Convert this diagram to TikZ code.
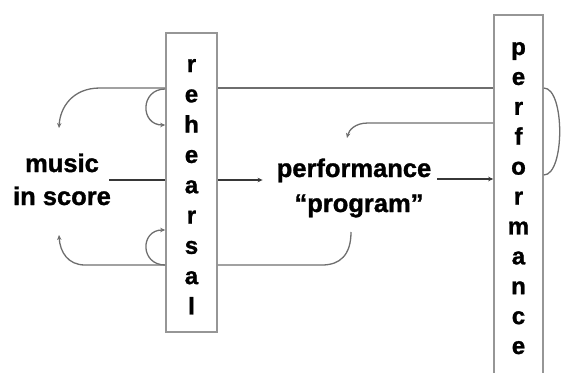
\documentclass[tikz,border=0pt]{standalone}
\usepackage{fontspec}
\setmainfont{Liberation Sans}[BoldFeatures={FakeBold=1.2}]
\usetikzlibrary{arrows.meta,calc}
\definecolor{boxgray}{RGB}{150,150,150}
\definecolor{conngray}{RGB}{110,110,110}
\definecolor{maingray}{RGB}{55,55,55}
\begin{document}
\begin{tikzpicture}[x=1pt,y=-1pt,
  vbox/.style={draw=boxgray, line width=1.6pt, fill=white, inner sep=0pt},
  lbl/.style={font=\fontsize{25.5}{30}\selectfont\bfseries, inner sep=0pt, anchor=base},
  boxletter/.style={font=\fontsize{24}{28}\selectfont\bfseries, inner sep=0pt, anchor=base},
  conn/.style={draw=conngray, line width=1.3pt},
  mainline/.style={draw=maingray, line width=2pt},
  tip/.style={-{Stealth[length=5pt,width=4.5pt]}}]
\useasboundingbox (0,0) rectangle (561,372);
% boxes
\node[vbox, minimum width=51pt, minimum height=299pt] (reh) at (191.5,182.5) {};
\node[vbox, minimum width=49pt, minimum height=372pt] (pbox) at (518.5,201) {};
\foreach \c [count=\i from 0] in {r,e,h,e,a,r,s,a,l}
  \node[boxletter] (rl\i) at (191.5,{72+30.3*\i}) {\c};
\foreach \c [count=\i from 0] in {p,e,r,f,o,r,m,a,n,c,e}
  \node[boxletter] (pl\i) at (518.5,{55+29.9*\i}) {\c};
% labels
\node[lbl] (mus1) at (62,172) {music};
\node[lbl] (mus2) at (62,205) {in score};
\node[lbl] (prf1) at (354,177) {performance};
\node[lbl] (prf2) at (359,212) {“program”};
% free ends
\coordinate (fbTop) at (59,128);
\coordinate (fbBot) at (59,235);
\coordinate (progIn) at (347,138);
\coordinate (progOut) at (351,232);
% top feedback
\draw[conn] (pbox.west |- 0,88) -- (reh.east |- 0,88);
\draw[conn,tip] (reh.west |- 0,88) -- (100,88) .. controls (72,88) and (60,108) .. (fbTop);
\draw[conn,tip] (reh.west |- 0,89) .. controls (140,89) and (140,125) .. (reh.west |- 0,125);
% bottom feedback
\draw[conn] (progOut) .. controls (351,255) and (340,265) .. (322,265) -- (reh.east |- 0,265);
\draw[conn,tip] (reh.west |- 0,265) -- (85,265) .. controls (68,265) and (60,252) .. (fbBot);
\draw[conn,tip] (reh.west |- 0,265) .. controls (140,265) and (140,230) .. (reh.west |- 0,230);
% second line from performance
\draw[conn,tip] (pbox.west |- 0,123) -- (368,123) .. controls (355,123) and (349,130) .. (progIn);
% right arc
\draw[conn] (pbox.east |- 0,88) .. controls (565,88) and (565,175) .. (pbox.east |- 0,175);
% main flow
\draw[mainline] ([xshift=10pt]mus1.east |- 0,180) -- (reh.west |- 0,180);
\draw[mainline,tip] (reh.east |- 0,180) -- ([xshift=-14pt]prf1.west |- 0,180);
\draw[mainline,tip] ([xshift=6pt]prf1.east |- 0,179) -- (pbox.west |- 0,179);
\end{tikzpicture}
\end{document}
